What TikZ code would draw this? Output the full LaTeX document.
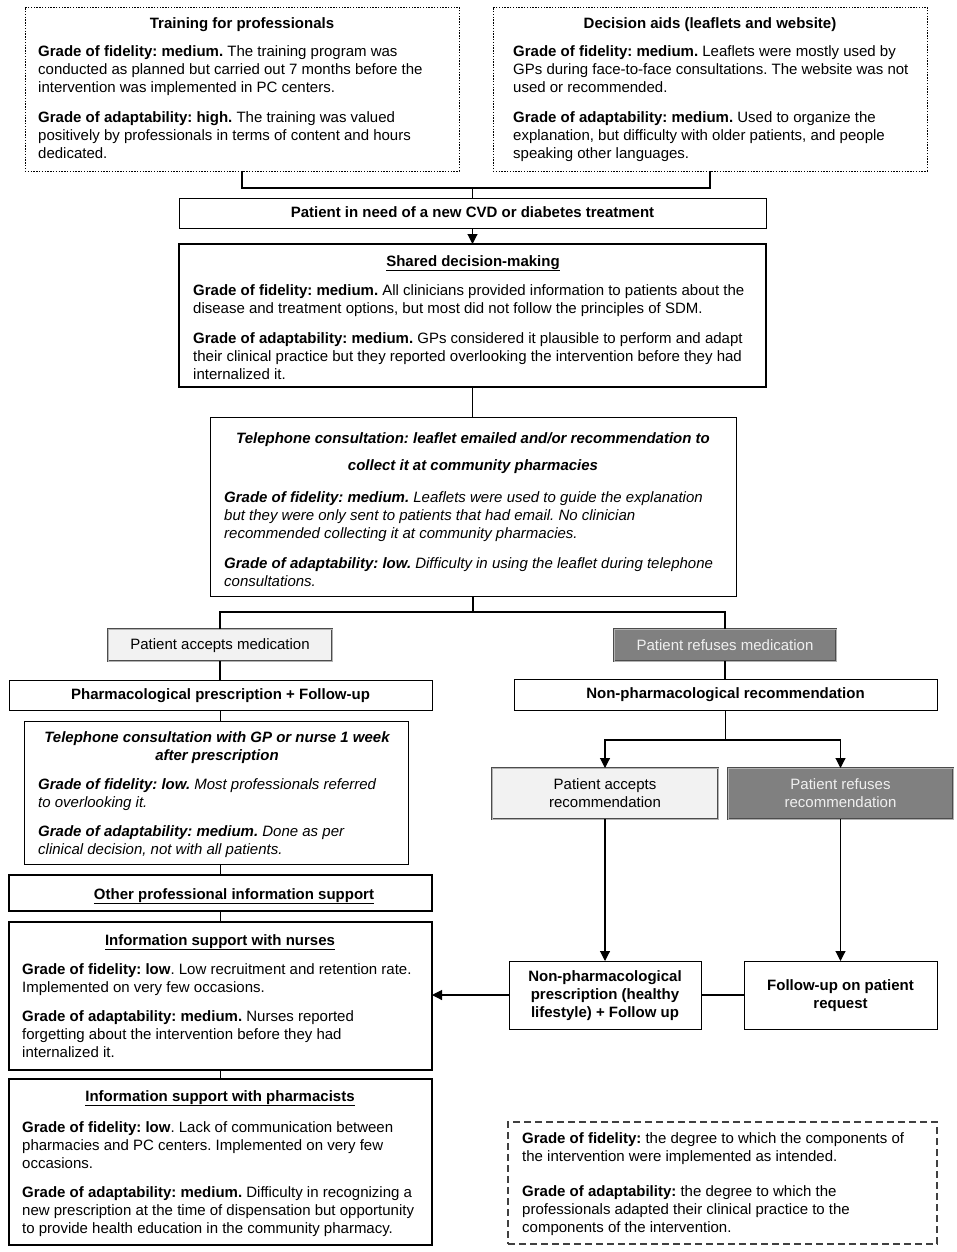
\documentclass[tikz,border=0pt]{standalone}
\usepackage{fontspec}
\setmainfont{Liberation Sans}
\usetikzlibrary{arrows.meta}
\frenchspacing
\newcommand\myfs{\fontsize{15}{18}\selectfont\frenchspacing}
\newcommand\st{\rule{0pt}{11pt}}
\newcommand\sh{\rule{0pt}{12pt}}
\newcommand\sd{\rule[-2pt]{0pt}{2pt}}
\tikzset{
  box/.style={draw, line width=0.8pt, inner sep=0pt, outer sep=0pt, fill=white},
  thickbox/.style={draw, line width=2.8pt, inner sep=0pt, outer sep=0pt, fill=white},
  dotbox/.style={draw, line width=0.9pt, dash pattern=on 1.4pt off 1.4pt, inner sep=0pt, outer sep=0pt},
  legbox/.style={draw=black!75, line width=1.2pt, dash pattern=on 7pt off 4pt, inner sep=0pt, outer sep=0pt},
  accbox/.style={draw=black!70, line width=0.6pt, double=black!30, double distance=0.9pt, fill=black!5, inner sep=0pt, outer sep=0pt, font=\myfs, align=center},
  refbox/.style={draw=black!70, line width=0.6pt, double=black!30, double distance=0.9pt, fill=black!50, text=black!6, inner sep=0pt, outer sep=0pt, font=\myfs, align=center},
  lbl/.style={inner sep=0pt, font=\myfs\bfseries, align=center},
  txt/.style={inner sep=0pt, anchor=north west, align=left, font=\myfs},
  ttl/.style={inner sep=0pt, anchor=base, font=\myfs\bfseries},
  conn/.style={line width=1.1pt},
  arr/.style={conn, -{Triangle[length=10pt,width=10pt]}}
}
\begin{document}
\begin{tikzpicture}[x=1pt,y=-1pt]
\useasboundingbox[fill=white] (0,0) rectangle (957,1252);

% top dotted boxes
\node[dotbox, minimum width=434, minimum height=164] (tr) at (242,89) {};
\node[ttl] (trt) at (242,29) {Training for professionals};
\node[txt] (trb) at (38,45) {\st\textbf{Grade of fidelity: medium.} The training program was\\ conducted as planned but carried out 7 months before the\\ intervention was implemented in PC centers.\\[12pt] \textbf{Grade of adaptability: high.} The training was valued\\ positively by professionals in terms of content and hours\\ dedicated.};

\node[dotbox, minimum width=434, minimum height=164] (da) at (710,89) {};
\node[ttl] (dat) at (710,29) {Decision aids (leaflets and website)};
\node[txt] (dab) at (513,45) {\st\textbf{Grade of fidelity: medium.} Leaflets were mostly used by\\ GPs during face-to-face consultations. The website was not\\ used or recommended.\\[12pt] \textbf{Grade of adaptability: medium.} Used to organize the\\ explanation, but difficulty with older patients, and people\\ speaking other languages.};

% patient box
\node[box, lbl, minimum width=587, minimum height=30] (pt) at (472.5,213) {\sh\sd Patient in need of a new CVD or diabetes treatment};

% SDM
\node[thickbox, minimum width=587, minimum height=143] (sdm) at (472.5,315.5) {};
\node[ttl] (sdmt) at (473,266) {\underline{Shared decision-making}};
\node[txt] (sdmb) at (193,284) {\st\textbf{Grade of fidelity: medium.} All clinicians provided information to patients about the\\ disease and treatment options, but most did not follow the principles of SDM.\\[12pt] \textbf{Grade of adaptability: medium.} GPs considered it plausible to perform and adapt\\ their clinical practice but they reported overlooking the intervention before they had\\ internalized it.};

% telephone consultation (middle)
\node[box, minimum width=526, minimum height=179] (tel) at (473,506.5) {};
\node[ttl, font=\myfs\bfseries\itshape] (telt1) at (473,443) {Telephone consultation: leaflet emailed and/or recommendation to};
\node[ttl, font=\myfs\bfseries\itshape] (telt2) at (473,470) {collect it at community pharmacies};
\node[txt, font=\myfs\itshape] (telb) at (224,491) {\st\textbf{Grade of fidelity: medium.} Leaflets were used to guide the explanation\\ but they were only sent to patients that had email. No clinician\\ recommended collecting it at community pharmacies.\\[12pt] \textbf{Grade of adaptability: low.} Difficulty in using the leaflet during telephone\\ consultations.};

% accept / refuse medication
\node[accbox, minimum width=224, minimum height=32] (accm) at (220,645) {\sh\sd Patient accepts medication};
\node[refbox, minimum width=222, minimum height=32] (refm) at (725,645) {\sh\sd Patient refuses medication};

% pharmacological / non-pharm recommendation
\node[box, lbl, minimum width=423, minimum height=30] (ph) at (220.5,695) {\sh\sd Pharmacological prescription + Follow-up};
\node[box, lbl, minimum width=423, minimum height=31] (nprec) at (725.5,694.5) {\sh\sd Non-pharmacological recommendation};

% left telephone consultation
\node[box, minimum width=384, minimum height=143] (tel2) at (216,792.5) {};
\node[ttl, font=\myfs\bfseries\itshape] (tel2t1) at (217,742) {Telephone consultation with GP or nurse 1 week};
\node[ttl, font=\myfs\bfseries\itshape] (tel2t2) at (217,760) {after prescription};
\node[txt, font=\myfs\itshape] (tel2b) at (38,778) {\st\textbf{Grade of fidelity: low.} Most professionals referred\\ to overlooking it.\\[11pt] \textbf{Grade of adaptability: medium.} Done as per\\ clinical decision, not with all patients.};

% other professional information support
\node[thickbox, minimum width=423, minimum height=36] (oth) at (220.5,893) {};
\node[ttl] (otht) at (234,899) {\underline{Other professional information support}};

% nurses
\node[thickbox, minimum width=423, minimum height=148] (nur) at (220.5,996) {};
\node[ttl] (nurt) at (220,945) {\underline{Information support with nurses}};
\node[txt] (nurb) at (22,963) {\st\textbf{Grade of fidelity: low}. Low recruitment and retention rate.\\ Implemented on very few occasions.\\[11pt] \textbf{Grade of adaptability: medium.} Nurses reported\\ forgetting about the intervention before they had\\ internalized it.};

% pharmacists
\node[thickbox, minimum width=423, minimum height=166] (pha) at (220.5,1162) {};
\node[ttl] (phat) at (220,1101) {\underline{Information support with pharmacists}};
\node[txt] (phab) at (22,1121) {\st\textbf{Grade of fidelity: low}. Lack of communication between\\ pharmacies and PC centers. Implemented on very few\\ occasions.\\[11pt] \textbf{Grade of adaptability: medium.} Difficulty in recognizing a\\ new prescription at the time of dispensation but opportunity\\ to provide health education in the community pharmacy.};

% accept / refuse recommendation
\node[accbox, minimum width=226, minimum height=51] (accr) at (605,793.5) {\sh Patient accepts\\recommendation\sd};
\node[refbox, minimum width=225, minimum height=51] (refr) at (840.5,793.5) {\sh Patient refuses\\recommendation\sd};

% non-pharm prescription / follow-up
\node[box, lbl, minimum width=192, minimum height=68] (npp) at (605,995) {\sh Non-pharmacological\\prescription (healthy\\lifestyle) + Follow up\sd};
\node[box, lbl, minimum width=193, minimum height=68] (fu) at (840.5,995) {\sh Follow-up on patient\\request\sd};

% legend
\node[legbox, minimum width=429, minimum height=122] (leg) at (722.5,1183) {};
\node[txt] (legb) at (522,1132) {\st\textbf{Grade of fidelity:} the degree to which the components of\\ the intervention were implemented as intended.\\[17pt] \textbf{Grade of adaptability:} the degree to which the\\ professionals adapted their clinical practice to the\\ components of the intervention.};

% connectors
\coordinate (j1) at (472.5,188);
\draw[conn] (tr.south) |- (j1) -| (da.south);
\draw[conn] (j1) -- (pt.north);
\draw[arr] (pt.south) -- (sdm.north);
\draw[conn] (sdm.south) -- (sdm.south |- tel.north);
\coordinate (j2) at (473,612);
\draw[conn] (tel.south) -- (j2);
\draw[conn] (accm.north) |- (j2) -| (refm.north);
\draw[conn] (accm.south) -- (accm.south |- ph.north);
\draw[conn] (refm.south) -- (refm.south |- nprec.north);
\draw[conn] (ph.south) -- (ph.south |- tel2.north);
\draw[conn] (tel2.south -| ph.south) -- (oth.north);
\draw[conn] (oth.south) -- (nur.north);
\draw[conn] (nur.south) -- (pha.north);
\coordinate (j3) at (725.5,740);
\draw[conn] (nprec.south) -- (j3);
\draw[arr] (j3) -| (accr.north);
\draw[arr] (j3) -| (refr.north);
\draw[arr] (accr.south) -- (npp.north);
\draw[arr] (refr.south) -- (fu.north);
\draw[conn] (fu.west) -- (npp.east);
\draw[arr] (npp.west) -- (npp.west -| nur.east);
\end{tikzpicture}
\end{document}
